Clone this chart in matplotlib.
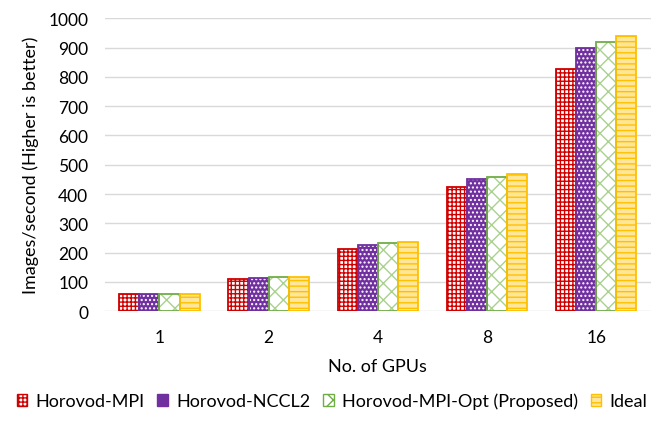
import numpy as np
import matplotlib
matplotlib.use("Agg")
import matplotlib.pyplot as plt
from matplotlib.patches import Patch

plt.rcParams['font.family'] = ['Lato', 'DejaVu Sans']
plt.rcParams['hatch.linewidth'] = 1.0

# data
gpus = ["1", "2", "4", "8", "16"]
mpi = [59, 110, 212, 424, 827]
nccl2 = [59, 114, 227, 451, 898]
mpi_opt = [59, 118, 232, 459, 920]
ideal = [59, 118, 236, 467, 940]

series = [
    ("Horovod-MPI", mpi, "white", "#D00000", "++++"),
    ("Horovod-NCCL2", nccl2, "#7030A0", "white", "...."),
    ("Horovod-MPI-Opt (Proposed)", mpi_opt, "white", "#A9D18E", "xx"),
    ("Ideal", ideal, "#FFE699", "#FFC000", "---"),
]
edge_cols = ["#D00000", "#7030A0", "#70AD47", "#FFC000"]

fig = plt.figure(figsize=(6.64, 4.31), dpi=100)
ax = fig.add_axes([0.158, 0.2754, 0.822, 0.68])

x = np.arange(len(gpus))
w = 0.184
handles = []
for i, (name, vals, face, hcol, hatch) in enumerate(series):
    pos = x + (i - 1.5) * w
    # fill + hatch drawn in hatch colour
    ax.bar(pos, vals, w, color=face, edgecolor=hcol, hatch=hatch, linewidth=0, zorder=3)
    # outline
    ax.bar(pos, vals, w, color="none", edgecolor=edge_cols[i], linewidth=1.3, zorder=4)
    handles.append(Patch(facecolor=face, edgecolor=edge_cols[i], hatch=hatch, label=name))

ax.set_xlim(-0.5, len(gpus) - 0.5)
ax.set_ylim(0, 1000)
ax.set_yticks(np.arange(0, 1001, 100))
ax.set_xticks(x)
ax.set_xticklabels(gpus)
ax.tick_params(axis="both", length=0, labelsize=12.5, colors="black")
ax.tick_params(axis="y", pad=12)
ax.tick_params(axis="x", pad=13)
ax.grid(axis="y", color="#D9D9D9", linewidth=1.0, zorder=0)
for s in ax.spines.values():
    s.set_visible(False)

ax.set_xlabel("No. of GPUs", fontsize=13, labelpad=9)
ax.set_ylabel("Images/second (Higher is better)", fontsize=13, labelpad=7)

fig.legend(handles=handles, loc="lower center", bbox_to_anchor=(0.5, 0.01), ncol=4,
           frameon=False, fontsize=13, handlelength=0.6, handleheight=0.6,
           handletextpad=0.45, columnspacing=0.7)

fig.savefig("out.png", dpi=100)
